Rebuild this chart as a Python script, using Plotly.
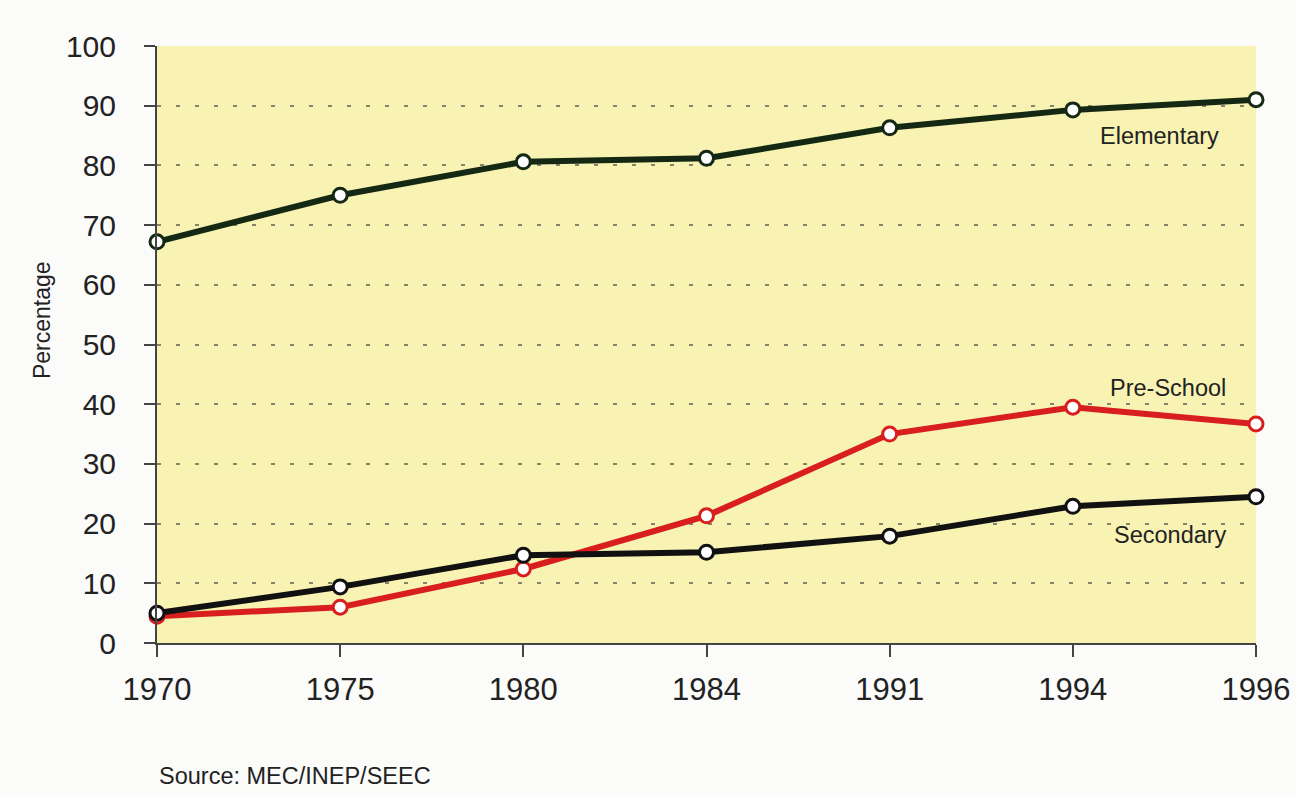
import plotly.graph_objects as go

years = ["1970", "1975", "1980", "1984", "1991", "1994", "1996"]
elementary = [67.2, 75.0, 80.6, 81.2, 86.3, 89.3, 91.0]
pre_school = [4.5, 6.0, 12.4, 21.3, 35.0, 39.5, 36.7]
secondary = [5.0, 9.4, 14.7, 15.2, 17.9, 22.9, 24.5]

y_ticks = [0, 10, 20, 30, 40, 50, 60, 70, 80, 90, 100]

FONT = "Liberation Sans, Arial, Helvetica"

fig = go.Figure()

def add_series(vals, color, name):
    fig.add_trace(go.Scatter(
        x=years, y=vals, mode="lines+markers", name=name,
        line=dict(color=color, width=6),
        marker=dict(size=14, color="white", line=dict(color=color, width=3)),
        cliponaxis=False, showlegend=False,
    ))

add_series(pre_school, "#d81e1e", "Pre-School")
add_series(secondary, "#111111", "Secondary")
add_series(elementary, "#142814", "Elementary")

# label positions (category index, value)
labels = [("Elementary", 5.475, 84.9), ("Pre-School", 5.52, 42.7), ("Secondary", 5.535, 18.1)]
for text, xv, yv in labels:
    fig.add_annotation(x=xv, y=yv, text=text, showarrow=False, xanchor="center", yanchor="middle",
                       font=dict(family=FONT, size=23.5, color="#222"))

fig.add_annotation(xref="paper", yref="paper", x=0, y=-0.223, xanchor="left", yanchor="middle",
                   text="Source: MEC/INEP/SEEC", showarrow=False,
                   font=dict(family=FONT, size=23.5, color="#222"))

fig.add_annotation(xref="paper", yref="y", x=0, y=54.1, xshift=-115, textangle=-90,
                   xanchor="center", yanchor="middle", text="Percentage", showarrow=False,
                   font=dict(family=FONT, size=23, color="#222"))

fig.update_layout(
    width=1296, height=796,
    margin=dict(l=157, r=40, t=46, b=153, autoexpand=False),
    paper_bgcolor="#fbfbfa",
    plot_bgcolor="#f8f3b2",
    font=dict(family=FONT, color="#222"),
    xaxis=dict(
        type="category", range=[0, 6], showgrid=False, automargin=False,
        showline=True, linecolor="#444", linewidth=2,
        ticks="outside", ticklen=12, tickwidth=1.5, tickcolor="#444",
        tickfont=dict(size=31, color="#222"), ticklabelstandoff=6,
    ),
    yaxis=dict(
        range=[0, 100], tickvals=y_ticks, showgrid=True, automargin=False,
        gridcolor="#85846a", gridwidth=1.5, griddash="4px,15px",
        showline=True, linecolor="#444", linewidth=2,
        ticks="outside", ticklen=11, tickwidth=1.5, tickcolor="#444",
        tickfont=dict(size=30, color="#222"), ticklabelstandoff=22,
        zeroline=False,
    ),
)

fig.write_html(
    "out.html",
    config={"displayModeBar": False},
    post_script="document.body.style.margin='0';document.body.style.overflow='hidden';",
)
